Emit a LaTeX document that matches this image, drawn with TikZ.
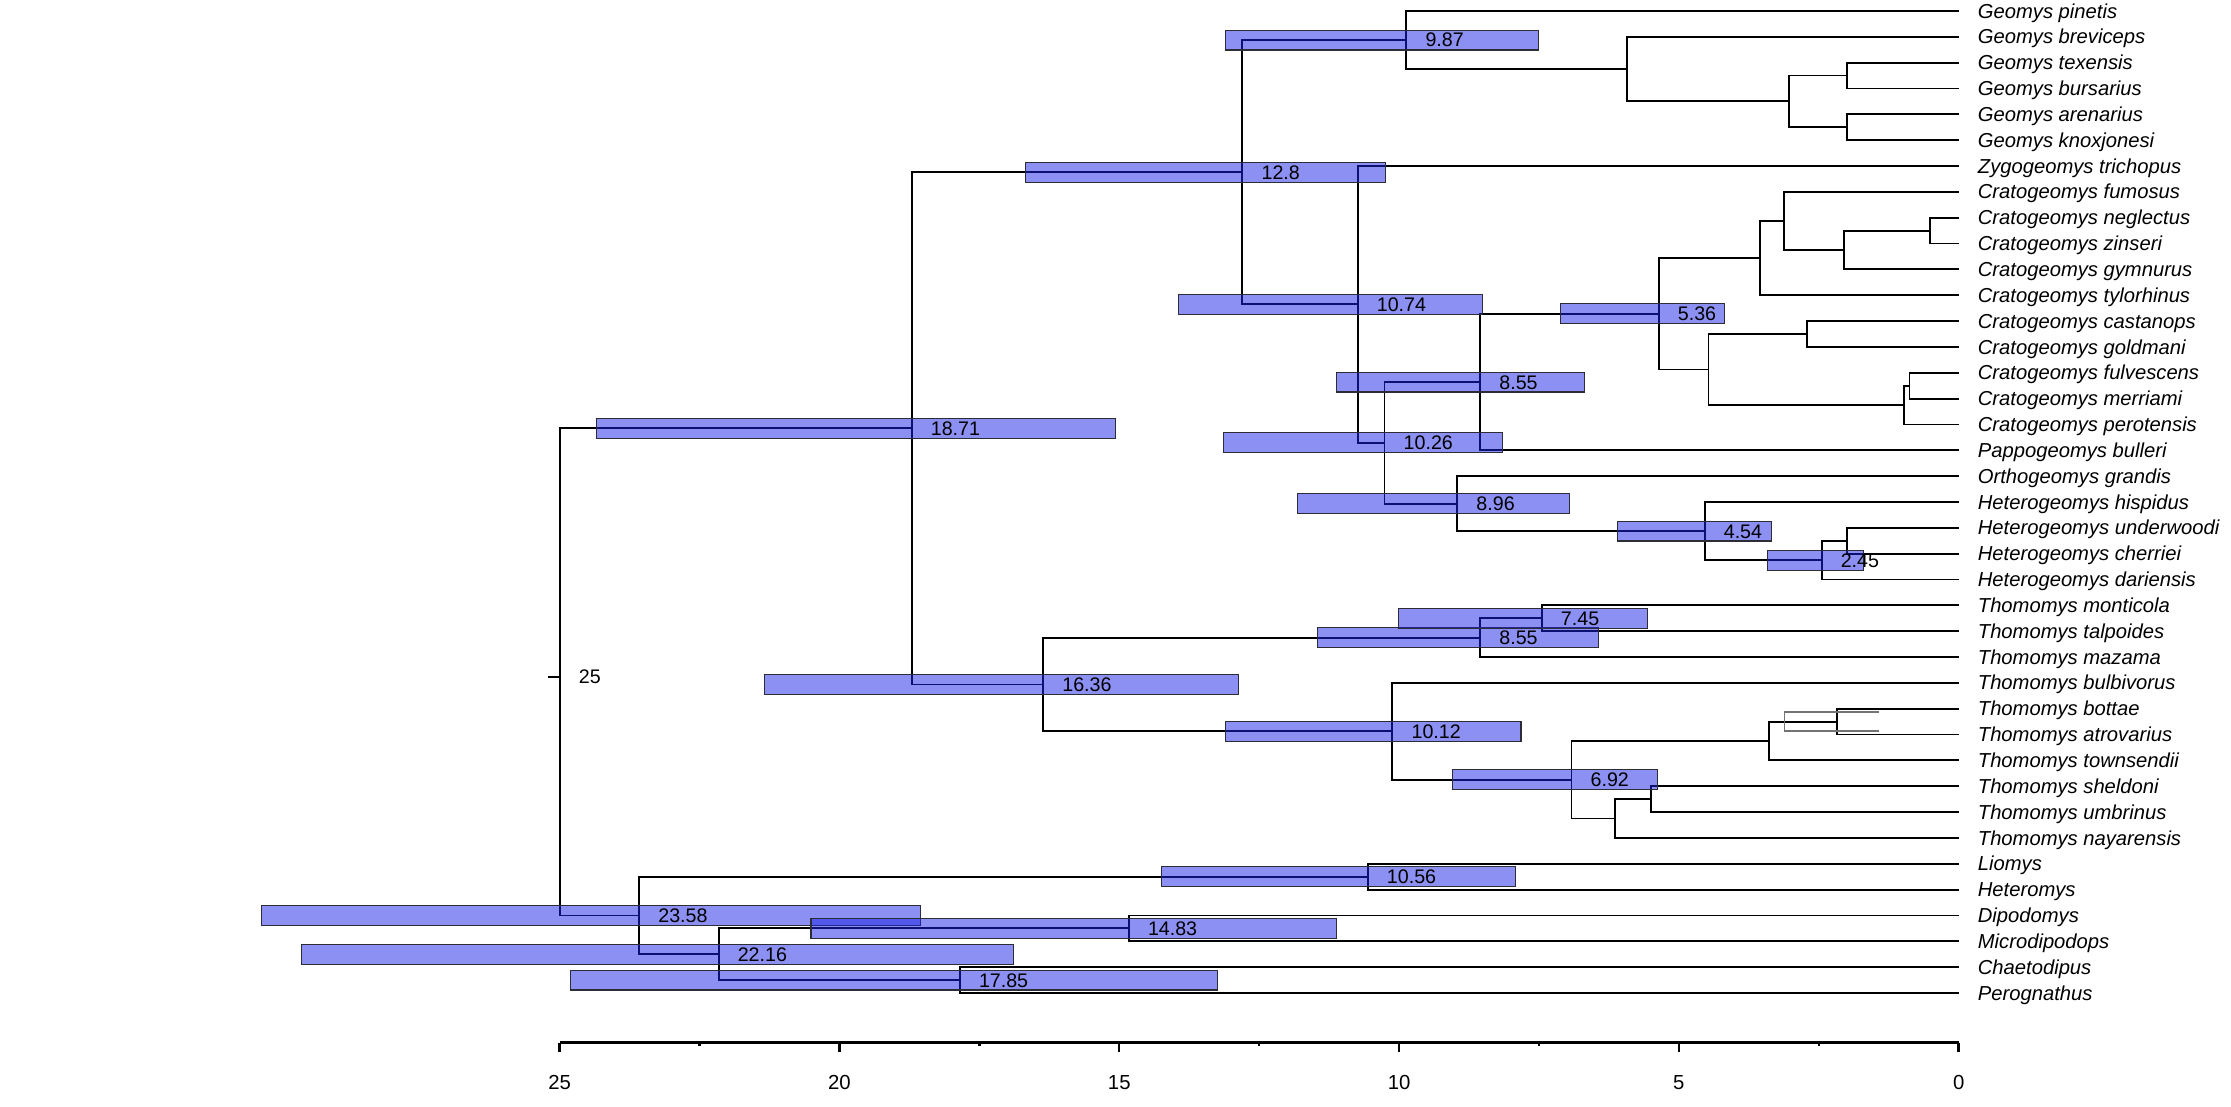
\documentclass[tikz,border=0pt]{standalone}
\usepackage{fontspec}
\setmainfont{Liberation Sans}
\definecolor{hpdfill}{RGB}{25,33,229}
\definecolor{hpdedge}{RGB}{45,45,55}
\newcommand\AgeX[1]{1376.6-39.33*#1}
\tikzset{
  branch/.style={line width=1.3pt, black},
  ghostbranch/.style={line width=0.8pt, black!55},
  hpdbar/.style={fill=hpdfill, fill opacity=0.5, draw=hpdedge, line width=0.75pt},
  agelbl/.style={anchor=base west, inner sep=0pt, xshift=13.3pt, yshift=-4.9pt, font=\fontsize{13.8}{15}\selectfont},
  tiplbl/.style={anchor=base west, inner sep=0pt, xshift=13.3pt, yshift=-5pt, font=\fontsize{14.2}{16}\selectfont\itshape},
  axisline/.style={line width=1.7pt, black},
  axlbl/.style={anchor=base, inner sep=0pt, font=\fontsize{14.3}{16}\selectfont},
}
\begin{document}
\begin{tikzpicture}[x=1pt,y=-1pt]
\useasboundingbox (0,0) rectangle (1568,778);

% ---- tips ----
\foreach \i in {0,...,38}{
  \coordinate (t\i) at (1376.6,{7.7+18.163*\i});
}

% ---- internal nodes ----
\coordinate (root)  at ({\AgeX{25}},475.6);
\coordinate (stub)  at (385,475.6);
\coordinate (N1871) at ({\AgeX{18.71}},301.06);
\coordinate (N128)  at ({\AgeX{12.8}},121.04);
\coordinate (G987)  at ({\AgeX{9.87}},28.13);
\coordinate (G1)    at ({\AgeX{5.93}},48.57);
\coordinate (G2)    at ({\AgeX{3.04}},71.27);
\coordinate (G3)    at ({\AgeX{2.0}},53.11);
\coordinate (G4)    at ({\AgeX{2.0}},89.44);
\coordinate (N1074) at ({\AgeX{10.74}},213.95);
\coordinate (N1026) at ({\AgeX{10.26}},311.22);
\coordinate (N855C) at ({\AgeX{8.55}},268.51);
\coordinate (C536)  at ({\AgeX{5.36}},220.55);
\coordinate (Ct)    at ({\AgeX{3.55}},181.38);
\coordinate (Cf)    at ({\AgeX{3.12}},155.27);
\coordinate (Cg)    at ({\AgeX{2.05}},175.71);
\coordinate (Cnz)   at ({\AgeX{0.52}},162.08);
\coordinate (CB)    at ({\AgeX{4.47}},259.71);
\coordinate (Ccg)   at ({\AgeX{2.71}},234.74);
\coordinate (Cp)    at ({\AgeX{0.98}},284.69);
\coordinate (Cfm)   at ({\AgeX{0.88}},271.06);
\coordinate (N896)  at ({\AgeX{8.96}},353.93);
\coordinate (H454)  at ({\AgeX{4.54}},373.23);
\coordinate (H245)  at ({\AgeX{2.45}},393.67);
\coordinate (Huc)   at ({\AgeX{2.0}},380.04);
\coordinate (T1636) at ({\AgeX{16.36}},481.08);
\coordinate (T855)  at ({\AgeX{8.55}},448.16);
\coordinate (T745)  at ({\AgeX{7.45}},434.53);
\coordinate (T1012) at ({\AgeX{10.12}},513.99);
\coordinate (T692)  at ({\AgeX{6.92}},548.05);
\coordinate (Tbat)  at ({\AgeX{3.39}},520.81);
\coordinate (Tba)   at ({\AgeX{2.17}},507.18);
\coordinate (Tsun)  at ({\AgeX{6.14}},575.30);
\coordinate (Tsu)   at ({\AgeX{5.5}},561.67);
\coordinate (H2358) at ({\AgeX{23.58}},643.41);
\coordinate (H1056) at ({\AgeX{10.56}},616.16);
\coordinate (H2216) at ({\AgeX{22.16}},670.65);
\coordinate (H1483) at ({\AgeX{14.83}},652.49);
\coordinate (H1785) at ({\AgeX{17.85}},688.81);
% faint duplicate bracket near T. bottae / atrovarius
\coordinate (gA) at (1320.8,500.4);
\coordinate (gN) at (1254.3,507.1);
\coordinate (gB) at (1320.8,513.8);

% ---- branches ----
\draw[branch] (stub) -- (root);
\foreach \p/\c in {root/N1871,root/H2358,
  N1871/N128,N1871/T1636,
  N128/G987,N128/N1074,
  G987/t0,G987/G1,G1/t1,G1/G2,G2/G3,G2/G4,G3/t2,G3/t3,G4/t4,G4/t5,
  N1074/t6,N1074/N1026,N1026/N855C,N1026/N896,
  N855C/C536,N855C/t17,C536/Ct,C536/CB,
  Ct/Cf,Ct/t11,Cf/t7,Cf/Cg,Cg/Cnz,Cg/t10,Cnz/t8,Cnz/t9,
  CB/Ccg,CB/Cp,Ccg/t12,Ccg/t13,Cp/Cfm,Cp/t16,Cfm/t14,Cfm/t15,
  N896/t18,N896/H454,H454/t19,H454/H245,H245/Huc,H245/t22,Huc/t20,Huc/t21,
  T1636/T855,T1636/T1012,T855/T745,T855/t25,T745/t23,T745/t24,
  T1012/t26,T1012/T692,T692/Tbat,T692/Tsun,Tbat/Tba,Tbat/t29,Tba/t27,Tba/t28,
  Tsun/Tsu,Tsun/t32,Tsu/t30,Tsu/t31,
  H2358/H1056,H2358/H2216,H1056/t33,H1056/t34,
  H2216/H1483,H2216/H1785,H1483/t35,H1483/t36,H1785/t37,H1785/t38}
  {\draw[branch] (\p) |- (\c);}
\draw[ghostbranch] (gN) |- (gA);
\draw[ghostbranch] (gN) |- (gB);

% ---- HPD bars ----
\foreach \n/\a/\b in {G987/861/1081.4, N128/720.7/973.9, N1074/828.4/1041.8,
  C536/1097/1212, N855C/939.3/1113.5, N1026/860/1055.9, N896/912/1102.8,
  H454/1136.5/1245, H245/1242/1310, N1871/419.4/784.2, T1636/537/870.5,
  T855/926/1123.4, T745/983/1158, T1012/861.3/1069, T692/1021/1165,
  H1056/816/1064.8, H2358/184/647, H1483/570/939, H2216/212/712, H1785/401/856}
{
  \draw[hpdbar] (\a,0 |- \n) ++(0,-7) rectangle ++({\b-\a},14);
}

% ---- node age labels ----
\node[agelbl] (lr)    at (root)  {25};
\node[agelbl] (l1871) at (N1871) {18.71};
\node[agelbl] (l128)  at (N128)  {12.8};
\node[agelbl] (l987)  at (G987)  {9.87};
\node[agelbl] (l1074) at (N1074) {10.74};
\node[agelbl] (l1026) at (N1026) {10.26};
\node[agelbl] (l855c) at (N855C) {8.55};
\node[agelbl] (l536)  at (C536)  {5.36};
\node[agelbl] (l896)  at (N896)  {8.96};
\node[agelbl] (l454)  at (H454)  {4.54};
\node[agelbl] (l245)  at (H245)  {2.45};
\node[agelbl] (l1636) at (T1636) {16.36};
\node[agelbl] (l855t) at (T855)  {8.55};
\node[agelbl] (l745)  at (T745)  {7.45};
\node[agelbl] (l1012) at (T1012) {10.12};
\node[agelbl] (l692)  at (T692)  {6.92};
\node[agelbl] (l2358) at (H2358) {23.58};
\node[agelbl] (l1056) at (H1056) {10.56};
\node[agelbl] (l2216) at (H2216) {22.16};
\node[agelbl] (l1483) at (H1483) {14.83};
\node[agelbl] (l1785) at (H1785) {17.85};

% ---- tip labels ----
\foreach \nm [count=\i from 0] in {Geomys pinetis,Geomys breviceps,Geomys texensis,Geomys bursarius,Geomys arenarius,Geomys knoxjonesi,Zygogeomys trichopus,Cratogeomys fumosus,Cratogeomys neglectus,Cratogeomys zinseri,Cratogeomys gymnurus,Cratogeomys tylorhinus,Cratogeomys castanops,Cratogeomys goldmani,Cratogeomys fulvescens,Cratogeomys merriami,Cratogeomys perotensis,Pappogeomys bulleri,Orthogeomys grandis,Heterogeomys hispidus,Heterogeomys underwoodi,Heterogeomys cherriei,Heterogeomys dariensis,Thomomys monticola,Thomomys talpoides,Thomomys mazama,Thomomys bulbivorus,Thomomys bottae,Thomomys atrovarius,Thomomys townsendii,Thomomys sheldoni,Thomomys umbrinus,Thomomys nayarensis,Liomys,Heteromys,Dipodomys,Microdipodops,Chaetodipus,Perognathus}
{
  \node[tiplbl] (lab\i) at (t\i) {\nm};
}

% ---- time axis ----
\coordinate (axL) at ({\AgeX{25}},732.8);
\coordinate (axR) at ({\AgeX{0}},732.8);
\draw[axisline] (axL) -- (axR);
\foreach \a in {0,5,10,15,20,25}{
  \coordinate (tk\a) at ({\AgeX{\a}},732.8);
  \draw[axisline] (tk\a) -- ++(0,6.6);
  \node[axlbl] (ax\a) at ({\AgeX{\a}},766) {\a};
}
\foreach \a in {2.5,7.5,12.5,17.5,22.5}{
  \draw[axisline] ({\AgeX{\a}},732.8) -- ++(0,2.6);
}
\end{tikzpicture}
\end{document}
